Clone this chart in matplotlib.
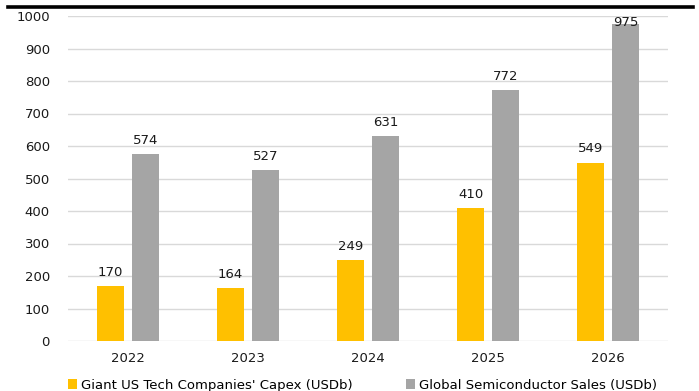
import matplotlib
matplotlib.use("Agg")
import matplotlib.pyplot as plt
from matplotlib.patches import Patch
from matplotlib.lines import Line2D
import numpy as np

years = ["2022", "2023", "2024", "2025", "2026"]
capex = [170, 164, 249, 410, 549]
semis = [574, 527, 631, 772, 975]
series_names = ["Giant US Tech Companies' Capex (USDb)", "Global Semiconductor Sales (USDb)"]
yticks = [0, 100, 200, 300, 400, 500, 600, 700, 800, 900, 1000]

YELLOW = "#FFC000"
GREY = "#A5A5A5"

plt.rcParams["font.family"] = ["DejaVu Sans"]

W, H = 699, 391
fig = plt.figure(figsize=(W / 100, H / 100), dpi=100)
ax = fig.add_axes([68 / W, 1 - 341 / H, 600 / W, 325 / H])

x = np.arange(len(years))
bw = 0.23
off = 0.145
b1 = ax.bar(x - off, capex, bw, color=YELLOW, zorder=3)
b2 = ax.bar(x + off, semis, bw, color=GREY, zorder=3)

ymax = 1000
gap = 31          # space between bar top and label baseline, in data units
label_cap = 970   # highest baseline that keeps the label inside the plot
for bars, vals in ((b1, capex), (b2, semis)):
    for rect, v in zip(bars, vals):
        ax.text(rect.get_x() + rect.get_width() / 2, min(v + gap, label_cap), f"{v}",
                ha="center", va="baseline", fontsize=9.5, color="#1a1a1a", zorder=4)

ax.set_xlim(-0.5, len(years) - 0.5)
ax.set_ylim(0, ymax)
ax.set_yticks(yticks)
ax.set_yticklabels([str(t) for t in yticks])
ax.set_xticks(x)
ax.set_xticklabels(years)
ax.tick_params(axis="both", length=0, labelsize=9.5, labelcolor="#1a1a1a")
ax.tick_params(axis="y", pad=13)
ax.tick_params(axis="x", pad=8)
ax.grid(axis="y", color="#D9D9D9", linewidth=1, zorder=0)
for s in ax.spines.values():
    s.set_visible(False)

# heading rule along the top edge
fig.add_artist(Line2D([8 / W, 693 / W], [1 - 7 / H, 1 - 7 / H],
                      color="black", linewidth=2.6, transform=fig.transFigure))

handles = [Patch(facecolor=YELLOW), Patch(facecolor=GREY)]
fig.legend(handles, series_names, loc="center left",
           bbox_to_anchor=(68 / W, 1 - 385 / H), ncol=2, frameon=False,
           fontsize=9.5, handlelength=0.7, handleheight=0.7,
           handletextpad=0.3, columnspacing=4.0, borderpad=0, borderaxespad=0)

fig.savefig("out.png", dpi=100)
